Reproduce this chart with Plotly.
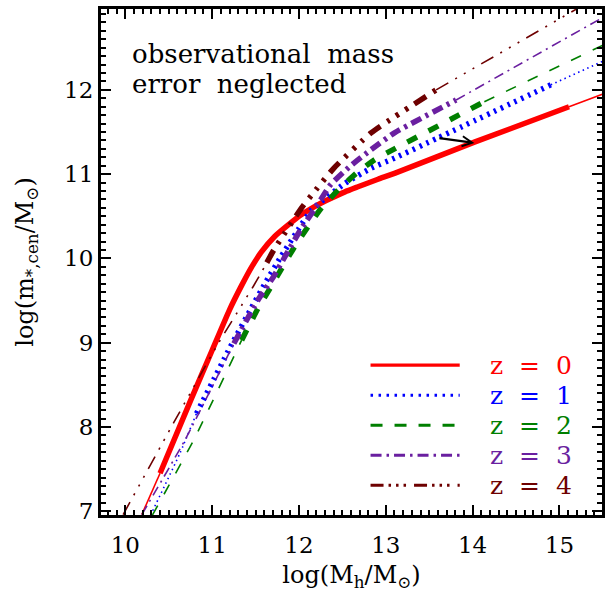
import plotly.graph_objects as go

# ---------------- data ----------------
# x: log(Mh/Msun), y: log(m*,cen/Msun); *_RANGE = span drawn thick
Z_LABELS = ["z = 0", "z = 1", "z = 2", "z = 3", "z = 4"]

Z0_LOGMH = [10.19, 10.40, 10.75, 11.00, 11.20, 11.34, 11.456, 11.57, 11.72, 11.88, 12.03, 12.18, 12.32, 12.53, 12.68, 12.91, 13.10, 14.02, 15.11, 15.50]
Z0_LOGMS = [6.96, 7.45, 8.31, 8.91, 9.39, 9.68, 9.90, 10.08, 10.26, 10.40, 10.52, 10.615, 10.69, 10.79, 10.85, 10.94, 11.01, 11.38, 11.80, 11.95]
Z0_RANGE = (10.40, 15.11)

Z1_LOGMH = [10.29, 10.63, 10.82, 11.23, 11.44, 11.61, 11.78, 11.99, 12.145, 12.53, 12.83, 13.10, 13.60, 14.90, 15.50]
Z1_LOGMS = [6.95, 7.69, 8.16, 8.99, 9.39, 9.705, 10.00, 10.34, 10.575, 10.89, 11.07, 11.19, 11.43, 12.06, 12.34]
Z1_RANGE = (10.82, 14.90)

Z2_LOGMH = [10.31, 10.79, 11.34, 11.53, 11.67, 11.80, 11.95, 12.107, 12.26, 12.45, 12.66, 12.87, 13.10, 14.135, 15.50]
Z2_LOGMS = [6.95, 7.85, 9.03, 9.41, 9.65, 9.88, 10.14, 10.38, 10.60, 10.81, 11.01, 11.17, 11.30, 11.86, 12.53]
Z2_RANGE = (11.34, 14.135)

Z3_LOGMH = [10.19, 10.69, 11.25, 11.53, 11.705, 11.86, 12.03, 12.20, 12.36, 12.585, 12.83, 13.10, 13.81, 15.50]
Z3_LOGMS = [6.96, 7.85, 8.99, 9.51, 9.78, 10.06, 10.36, 10.615, 10.87, 11.09, 11.29, 11.49, 11.88, 12.86]
Z3_RANGE = (11.25, 13.81)

Z4_LOGMH = [9.975, 10.557, 11.07, 11.475, 11.57, 11.63, 11.71, 12.03, 12.145, 12.40, 12.83, 13.10, 13.58, 15.50]
Z4_LOGMS = [6.96, 8.05, 8.99, 9.67, 9.84, 9.95, 10.10, 10.60, 10.75, 11.07, 11.49, 11.68, 12.00, 13.14]
Z4_RANGE = (11.63, 13.58)

ARROW_TAIL = (13.60, 11.43)
ARROW_HEAD = (14.02, 11.37)

X_TICKS = [10, 11, 12, 13, 14, 15]
Y_TICKS = [7, 8, 9, 10, 11, 12]

NOTE_LINES = ["observational\u00a0\u00a0mass", "error\u00a0\u00a0neglected"]

# ---------------- styles ----------------
COLORS = ["#ff0000", "#0000ff", "#007f00", "#6a1fa0", "#6e0000"]
THICK_DASH = ["solid", "2.5px,5px", "11px,13px", "11px,5px,3px,5px",
              "14px,8px,3px,8px,3px,8px,3px,8px"]
THIN_DASH = ["solid", "1.5px,3.5px", "11px,13px", "10px,5px,2px,5px",
             "14px,8px,2px,8px,2px,8px,2px,8px"]
LEG_DASH = ["solid", "2.5px,5.5px", "12px,12px", "11px,5px,2.5px,5px",
            "13px,5px,2.5px,5px,2.5px,5px,2.5px,8px"]
THICK_W = 5.5
THIN_W = 1.6
FONT = "DejaVu Serif"

SERIES = [
    (Z0_LOGMH, Z0_LOGMS, Z0_RANGE),
    (Z1_LOGMH, Z1_LOGMS, Z1_RANGE),
    (Z2_LOGMH, Z2_LOGMS, Z2_RANGE),
    (Z3_LOGMH, Z3_LOGMS, Z3_RANGE),
    (Z4_LOGMH, Z4_LOGMS, Z4_RANGE),
]


def split(xs, ys, lo, hi):
    low = [(x, y) for x, y in zip(xs, ys) if x <= lo]
    mid = [(x, y) for x, y in zip(xs, ys) if lo <= x <= hi]
    high = [(x, y) for x, y in zip(xs, ys) if x >= hi]
    return low, mid, high


fig = go.Figure()
for i, (xs, ys, (lo, hi)) in enumerate(SERIES):
    low, mid, high = split(xs, ys, lo, hi)
    for seg, w, dash in ((low, THIN_W, THIN_DASH[i]), (high, THIN_W, THIN_DASH[i]),
                         (mid, THICK_W, THICK_DASH[i])):
        if len(seg) < 2:
            continue
        fig.add_trace(go.Scatter(
            x=[p[0] for p in seg], y=[p[1] for p in seg], mode="lines",
            line=dict(color=COLORS[i], width=w, dash=dash, shape="spline", smoothing=0.5),
            name=Z_LABELS[i], showlegend=False, hoverinfo="skip"))

# ---------------- legend drawn as in the reference ----------------
LEG_X0, LEG_X1, LEG_TX = 0.538, 0.716, 0.772
LEG_Y0, LEG_DY = 0.296, 0.0593
shapes = []
annotations = []
for i, lab in enumerate(Z_LABELS):
    yy = LEG_Y0 - i * LEG_DY
    shapes.append(dict(type="line", xref="paper", yref="paper", x0=LEG_X0, x1=LEG_X1,
                       y0=yy, y1=yy, line=dict(color=COLORS[i], width=3.2, dash=LEG_DASH[i])))
    annotations.append(dict(xref="paper", yref="paper", x=LEG_TX, y=yy, xanchor="left",
                            yanchor="middle", showarrow=False,
                            text=lab.replace(" ", "\u00a0\u00a0"),
                            font=dict(family=FONT, size=25, color=COLORS[i])))

annotations.append(dict(xref="paper", yref="paper", x=0.058, y=0.912, xanchor="left",
                        yanchor="middle", showarrow=False, text=NOTE_LINES[0],
                        font=dict(family=FONT, size=26, color="black")))
annotations.append(dict(xref="paper", yref="paper", x=0.058, y=0.851, xanchor="left",
                        yanchor="middle", showarrow=False, text=NOTE_LINES[1],
                        font=dict(family=FONT, size=26, color="black")))
annotations.append(dict(x=ARROW_HEAD[0], y=ARROW_HEAD[1], ax=ARROW_TAIL[0], ay=ARROW_TAIL[1],
                        xref="x", yref="y", axref="x", ayref="y", showarrow=True,
                        arrowhead=5, arrowsize=0.9, arrowwidth=2.2, arrowcolor="black", text=""))

axis_common = dict(
    showline=True, linewidth=3, linecolor="black", mirror="ticks",
    ticks="inside", ticklen=10, tickwidth=2, tickcolor="black",
    showgrid=False, zeroline=False,
    tickfont=dict(family=FONT, size=23, color="black"),
    minor=dict(ticks="inside", ticklen=5, tickwidth=1.5, tickcolor="black", dtick=0.1,
               showgrid=False),
)

fig.update_layout(
    width=609, height=594,
    margin=dict(l=101, r=4, t=9, b=79),
    plot_bgcolor="white", paper_bgcolor="white",
    showlegend=False,
    shapes=shapes, annotations=annotations,
    xaxis=dict(range=[9.72, 15.49], tickvals=X_TICKS, ticktext=[str(v) for v in X_TICKS],
               ticklabelstandoff=7,
               title=dict(text="log(M<sub>h</sub>/M<sub>\u2299</sub>)", standoff=10,
                          font=dict(family=FONT, size=24, color="black")),
               **axis_common),
    yaxis=dict(range=[6.955, 12.96], tickvals=Y_TICKS, ticktext=[str(v) for v in Y_TICKS],
               title=dict(text="log(m<sub>*,cen</sub>/M<sub>\u2299</sub>)", standoff=24,
                          font=dict(family=FONT, size=24, color="black")),
               **axis_common),
)

fig.write_html("out.html", config={"displayModeBar": False},
               post_script="document.body.style.margin='0';document.body.style.overflow='hidden';")
